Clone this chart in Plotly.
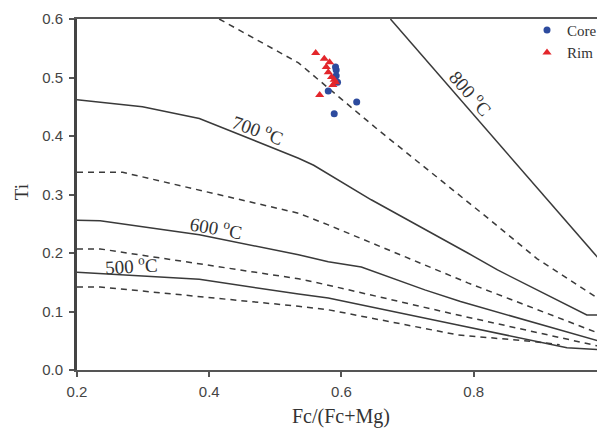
import plotly.graph_objects as go

# Isotherm curves (Fc/(Fc+Mg), Ti)
iso800_x = [0.674, 1.0]
iso800_y = [0.60, 0.176]
dash_a_x = [0.415, 0.535, 0.60, 0.656, 0.821, 0.896, 0.991, 1.0]
dash_a_y = [0.60, 0.525, 0.463, 0.41, 0.26, 0.19, 0.12, 0.113]
iso700_x = [0.2, 0.299, 0.385, 0.535, 0.558, 0.645, 0.791, 0.836, 0.971, 1.0]
iso700_y = [0.462, 0.45, 0.43, 0.362, 0.350, 0.291, 0.200, 0.171, 0.094, 0.094]
dash_b_x = [0.2, 0.269, 0.535, 0.58, 0.791, 0.983, 1.0]
dash_b_y = [0.338, 0.338, 0.268, 0.248, 0.149, 0.065, 0.058]
iso600_x = [0.2, 0.235, 0.385, 0.535, 0.58, 0.63, 0.726, 0.78, 0.994, 1.0]
iso600_y = [0.256, 0.255, 0.231, 0.197, 0.185, 0.176, 0.137, 0.117, 0.048, 0.047]
dash_c_x = [0.2, 0.235, 0.535, 0.58, 0.776, 0.994, 1.0]
dash_c_y = [0.207, 0.207, 0.156, 0.145, 0.094, 0.039, 0.038]
iso500_x = [0.2, 0.385, 0.535, 0.58, 0.776, 0.941, 1.0]
iso500_y = [0.167, 0.155, 0.130, 0.123, 0.077, 0.038, 0.034]
dash_d_x = [0.2, 0.235, 0.535, 0.58, 0.776, 0.896, 0.93]
dash_d_y = [0.142, 0.142, 0.109, 0.103, 0.060, 0.048, 0.043]

# Samples
core_x = [0.591, 0.592, 0.592, 0.594, 0.580, 0.623, 0.589]
core_y = [0.518, 0.513, 0.503, 0.492, 0.477, 0.458, 0.438]
rim_x = [0.561, 0.574, 0.577, 0.580, 0.585, 0.591, 0.567, 0.582, 0.587, 0.589]
rim_y = [0.542, 0.532, 0.518, 0.509, 0.501, 0.492, 0.470, 0.526, 0.487, 0.496]

# Curve labels
lab_text = ["800 <sup>o</sup>C", "700 <sup>o</sup>C", "600 <sup>o</sup>C", "500 <sup>o</sup>C"]
lab_x = [0.797, 0.474, 0.411, 0.283]
lab_y = [0.474, 0.412, 0.245, 0.180]
lab_angle = [49, 20, 10, -3]

LINE = "#3a3a3a"
fig = go.Figure()

solid = [(iso800_x, iso800_y), (iso700_x, iso700_y), (iso600_x, iso600_y), (iso500_x, iso500_y)]
dashed = [(dash_a_x, dash_a_y), (dash_b_x, dash_b_y), (dash_c_x, dash_c_y), (dash_d_x, dash_d_y)]
for xs, ys in solid:
    fig.add_trace(go.Scatter(x=xs, y=ys, mode="lines", showlegend=False, hoverinfo="skip",
                             line=dict(color=LINE, width=1.5)))
for xs, ys in dashed:
    fig.add_trace(go.Scatter(x=xs, y=ys, mode="lines", showlegend=False, hoverinfo="skip",
                             line=dict(color=LINE, width=1.5, dash="6px,5px")))

fig.add_trace(go.Scatter(x=core_x, y=core_y, mode="markers", name="Core",
                         marker=dict(symbol="circle", size=7, color="#2d4b9e")))
fig.add_trace(go.Scatter(x=rim_x, y=rim_y, mode="markers", name="Rim",
                         marker=dict(symbol="triangle-up", size=8, color="#e3262b")))

for t, x, y, a in zip(lab_text, lab_x, lab_y, lab_angle):
    fig.add_annotation(x=x, y=y, text=t, textangle=a, showarrow=False,
                       font=dict(family="Liberation Serif", size=19, color="#333333"))

fig.add_annotation(xref="paper", yref="paper", x=(22 - 77) / 528, y=(370 - 192) / 351, text="Ti",
                   textangle=-90, showarrow=False, xanchor="center", yanchor="middle",
                   font=dict(family="Liberation Serif", size=19, color="#333333"))
fig.add_annotation(xref="paper", yref="paper", x=(343 - 77) / 528, y=(370 - 416) / 351,
                   text="Fc/(Fc+Mg)", showarrow=False, xanchor="center", yanchor="middle",
                   font=dict(family="Liberation Serif", size=20, color="#333333"))

# page body has an 8px default margin, so the figure is sized/offset to compensate
fig.update_layout(
    width=597, height=420,
    margin=dict(l=69, r=0, t=11, b=58),
    paper_bgcolor="white", plot_bgcolor="white",
    showlegend=True,
    legend=dict(x=1, y=1.015, xanchor="right", yanchor="top", bgcolor="rgba(0,0,0,0)",
                font=dict(family="Liberation Serif", size=15, color="#333333"),
                itemwidth=30, tracegroupgap=6),
    xaxis=dict(range=[0.2, 0.994], tickvals=[0.2, 0.4, 0.6, 0.8, 1.0], tickformat=".1f",
               showgrid=False, zeroline=False, showline=True, linecolor="#555555", linewidth=2,
               mirror=True, ticks="outside", ticklen=5, tickcolor="#555555", tickwidth=1.5,
               tickfont=dict(family="Liberation Sans", size=15, color="#444444"),
               ticklabelstandoff=2),
    yaxis=dict(range=[0, 0.6], tickvals=[0, 0.1, 0.2, 0.3, 0.4, 0.5, 0.6], tickformat=".1f",
               showgrid=False, zeroline=False, showline=True, linecolor="#444444", linewidth=3,
               mirror=True, ticks="outside", ticklen=5, tickcolor="#555555", tickwidth=1.5,
               tickfont=dict(family="Liberation Sans", size=15, color="#444444"),
               ticklabelstandoff=3),
)
fig.write_html("out.html")
